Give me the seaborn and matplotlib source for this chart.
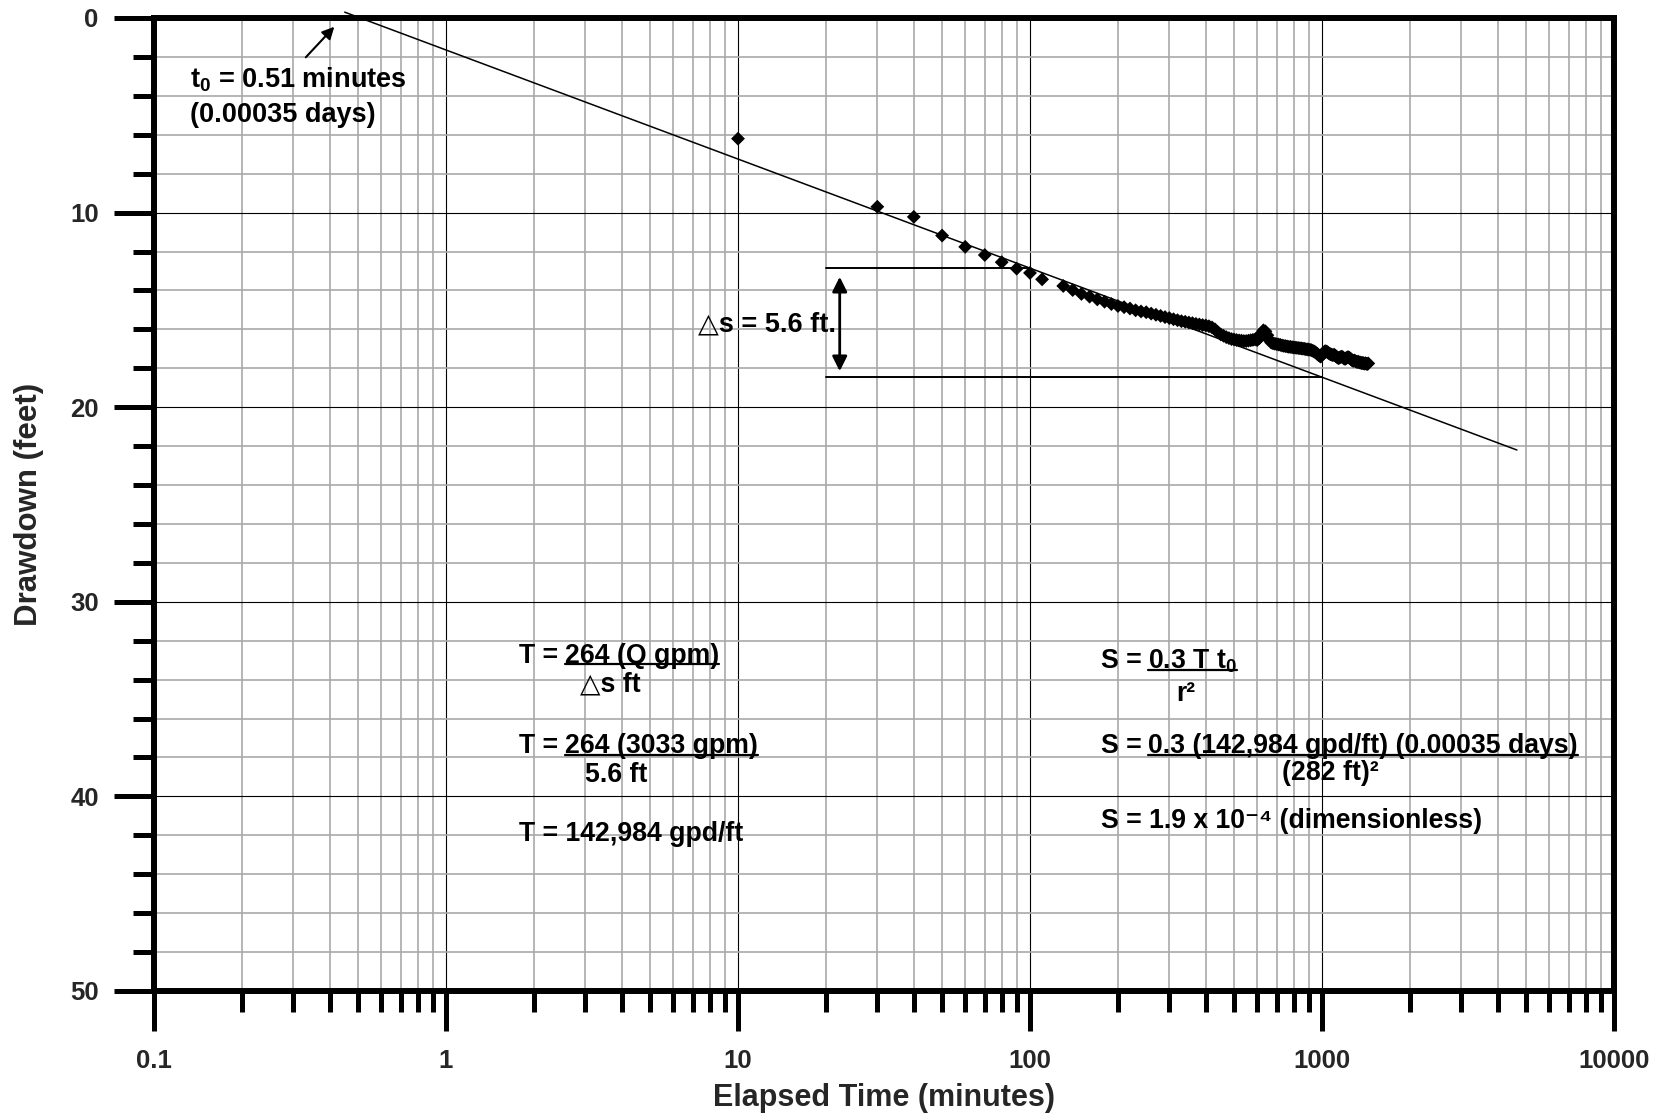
import matplotlib.pyplot as plt
import pandas as pd
import seaborn as sns
from matplotlib.lines import Line2D
from matplotlib.ticker import FixedLocator, LogLocator, MultipleLocator, NullFormatter

# observed drawdown in the pumping test
elapsed_min = [
    10, 30, 40, 50, 60, 70, 80, 90, 100, 110,
    130, 140, 150, 160, 170, 180, 190, 200, 210, 220,
    230, 240, 250, 260, 270, 280, 290, 300, 310, 320,
    330, 340, 350, 360, 370, 380, 390, 400, 410, 420,
    430, 440, 450, 460, 470, 480, 490, 500, 510, 520,
    530, 540, 550, 560, 570, 580, 590, 600, 610, 620,
    630, 640, 650, 660, 670, 680, 690, 700, 710, 720,
    730, 740, 750, 760, 770, 780, 790, 800, 810, 820,
    830, 840, 850, 860, 870, 880, 890, 900, 910, 920,
    930, 940, 950, 960, 970, 980, 990, 1000, 1010, 1020,
    1030, 1040, 1050, 1060, 1070, 1080, 1090, 1100, 1110, 1120,
    1130, 1140, 1150, 1160, 1170, 1180, 1190, 1200, 1210, 1220,
    1230, 1240, 1250, 1260, 1270, 1280, 1290, 1300, 1310, 1320,
    1330, 1340, 1350, 1360, 1370, 1380, 1390, 1400, 1410, 1420,
    1430, 1440,
]
drawdown_ft = [
    6.20, 9.70, 10.22, 11.18, 11.76, 12.18, 12.55, 12.88, 13.10, 13.43,
    13.77, 13.98, 14.18, 14.32, 14.46, 14.58, 14.70, 14.80, 14.86, 14.93,
    15.02, 15.08, 15.12, 15.19, 15.25, 15.31, 15.37, 15.42, 15.48, 15.53,
    15.58, 15.61, 15.65, 15.68, 15.72, 15.75, 15.78, 15.80, 15.84, 15.90,
    16.00, 16.15, 16.26, 16.33, 16.40, 16.45, 16.50, 16.52, 16.55, 16.57,
    16.58, 16.60, 16.60, 16.58, 16.56, 16.54, 16.52, 16.55, 16.45, 16.20,
    16.05, 16.10, 16.30, 16.55, 16.68, 16.72, 16.74, 16.76, 16.78, 16.80,
    16.83, 16.85, 16.86, 16.88, 16.90, 16.90, 16.92, 16.93, 16.94, 16.95,
    16.96, 16.97, 16.98, 16.99, 17.00, 17.02, 17.03, 17.04, 17.05, 17.07,
    17.10, 17.14, 17.18, 17.24, 17.30, 17.36, 17.40, 17.32, 17.22, 17.14,
    17.12, 17.15, 17.20, 17.25, 17.28, 17.30, 17.33, 17.30, 17.35, 17.40,
    17.45, 17.48, 17.45, 17.42, 17.40, 17.44, 17.50, 17.52, 17.48, 17.44,
    17.43, 17.46, 17.50, 17.55, 17.60, 17.62, 17.60, 17.63, 17.66, 17.68,
    17.66, 17.70, 17.70, 17.72, 17.74, 17.72, 17.75, 17.76, 17.74, 17.77,
    17.78, 17.75,
]

# straight line fit, end points
fit_min = [0.45, 4650]
fit_ft = [-0.3, 22.2]

# delta s construction (one log cycle)
ds_start_min = 20
ds_end_min = [100, 1000]
ds_levels_ft = [12.84, 18.44]
ds_arrow_min = 22.3
ds_arrow_ft = [13.3, 18.15]

# t0 pointer
t0_head = (0.4145, 0.45)
t0_tail = (0.331, 2.02)

x_ticks = [0.1, 1, 10, 100, 1000, 10000]
x_tick_labels = ["0.1", "1", "10", "100", "1000", "10000"]
y_ticks = [0, 10, 20, 30, 40, 50]

df = pd.DataFrame({"t": elapsed_min, "s": drawdown_ft})

sns.set_theme(style="white")
plt.rcParams["font.family"] = ["Liberation Sans", "DejaVu Sans"]
plt.rcParams["font.weight"] = "bold"
plt.rcParams["axes.labelweight"] = "bold"
plt.rcParams["mathtext.fontset"] = "custom"
plt.rcParams["mathtext.rm"] = "Liberation Sans:bold"
plt.rcParams["mathtext.it"] = "Liberation Sans:bold"
plt.rcParams["mathtext.bf"] = "Liberation Sans:bold"
plt.rcParams["mathtext.default"] = "rm"

fig = plt.figure(figsize=(16.69, 11.19), dpi=100)
ax = fig.add_axes([0.09227, 0.11439, 0.87478, 0.86953])

sns.lineplot(x=fit_min, y=fit_ft, ax=ax, color="black", lw=1.1, zorder=2)
ax.lines[-1].set_clip_on(False)
sns.scatterplot(data=df, x="t", y="s", ax=ax, marker="D", s=50, color="black",
                edgecolor="none", zorder=3, legend=False)

ax.plot([ds_start_min, ds_end_min[0]], [ds_levels_ft[0]] * 2, color="black", lw=1.4)
ax.plot([ds_start_min, ds_end_min[1]], [ds_levels_ft[1]] * 2, color="black", lw=1.4)
ax.annotate("", xy=(ds_arrow_min, ds_arrow_ft[0]), xytext=(ds_arrow_min, ds_arrow_ft[1]),
            arrowprops=dict(arrowstyle="<|-|>", color="black", lw=2, mutation_scale=22,
                            shrinkA=0, shrinkB=0))
ax.annotate("", xy=t0_head, xytext=t0_tail,
            arrowprops=dict(arrowstyle="-|>", color="black", lw=1.5, mutation_scale=18,
                            shrinkA=0, shrinkB=0), annotation_clip=False)

ax.set_xscale("log")
ax.set_xlim(0.1, 10000)
ax.set_ylim(50, 0)

ax.xaxis.set_major_locator(FixedLocator(x_ticks))
ax.set_xticklabels(x_tick_labels)
ax.xaxis.set_minor_locator(LogLocator(base=10, subs=range(2, 10), numticks=30))
ax.xaxis.set_minor_formatter(NullFormatter())
ax.yaxis.set_major_locator(FixedLocator(y_ticks))
ax.yaxis.set_minor_locator(MultipleLocator(2))

ax.tick_params(which="both", direction="out", width=3.6, color="black",
               labelsize=18.5, bottom=True, left=True)
ax.tick_params(which="major", length=28.8)
ax.tick_params(which="minor", length=15)
ax.tick_params(axis="x", which="major", pad=13)
ax.tick_params(axis="y", which="major", pad=11)

for sp in ax.spines.values():
    sp.set_linewidth(4.3)
    sp.set_color("black")

ax.set_axisbelow(True)
ax.grid(which="major", color="black", lw=0.8)
ax.grid(which="minor", color="#a9a9a9", lw=1.2)

ax.set_xlabel("Elapsed Time (minutes)", fontsize=22, fontweight="bold")
ax.xaxis.set_label_coords(0.5, -0.11)
ax.xaxis.label.set_va("center")
ax.set_ylabel("Drawdown (feet)", fontsize=22.5, fontweight="bold")
ax.yaxis.set_label_coords(-0.0856, 0.5)
ax.yaxis.label.set_va("center")


def at(px, py):
    # reference pixel -> axes fraction
    return (px - 154) / 1460, (991 - py) / 973


def put(px, py, s, size=19.2):
    x, y = at(px, py)
    return ax.text(x, y, s, transform=ax.transAxes, ha="left", va="baseline",
                   fontsize=size, fontweight="bold", color="black")


put(190, 87.3, "t$_0$ = 0.51 minutes", 19.5)
put(190, 121.7, "(0.00035 days)", 19.5)
put(698, 331.7, "\u25b3s = 5.6 ft.", 19.5)

underlined = []
put(519.3, 662.7, "T = ")
underlined.append((put(565, 662.7, "264 (Q gpm)"), 662.7))
put(580, 691.7, "\u25b3s ft")
put(519.3, 753.3, "T = ")
underlined.append((put(565, 753.3, "264 (3033 gpm)"), 753.3))
put(585, 781.7, "5.6 ft")
put(519.3, 840.7, "T = 142,984 gpd/ft")

put(1100.7, 668.3, "S = ")
underlined.append((put(1148, 668.3, "0.3 T t$_0$"), 668.3))
put(1176.7, 701, "r\u00b2")
put(1100.7, 753.3, "S = ")
underlined.append((put(1148, 753.3, "0.3 (142,984 gpd/ft) (0.00035 days)"), 753.3))
put(1281.7, 780, "(282 ft)\u00b2")
put(1100.7, 828.3, "S = 1.9 x 10\u207b\u2074 (dimensionless)")

fig.canvas.draw()
renderer = fig.canvas.get_renderer()
for txt, py in underlined:
    bb = txt.get_window_extent(renderer)
    y_disp = ax.transAxes.transform(at(0, py))[1] - 1.5
    (x0, y0), (x1, _) = fig.transFigure.inverted().transform([(bb.x0, y_disp), (bb.x1, y_disp)])
    fig.add_artist(Line2D([x0, x1], [y0, y0], transform=fig.transFigure,
                          color="black", lw=1.6))

fig.savefig("out.png", dpi=100)
